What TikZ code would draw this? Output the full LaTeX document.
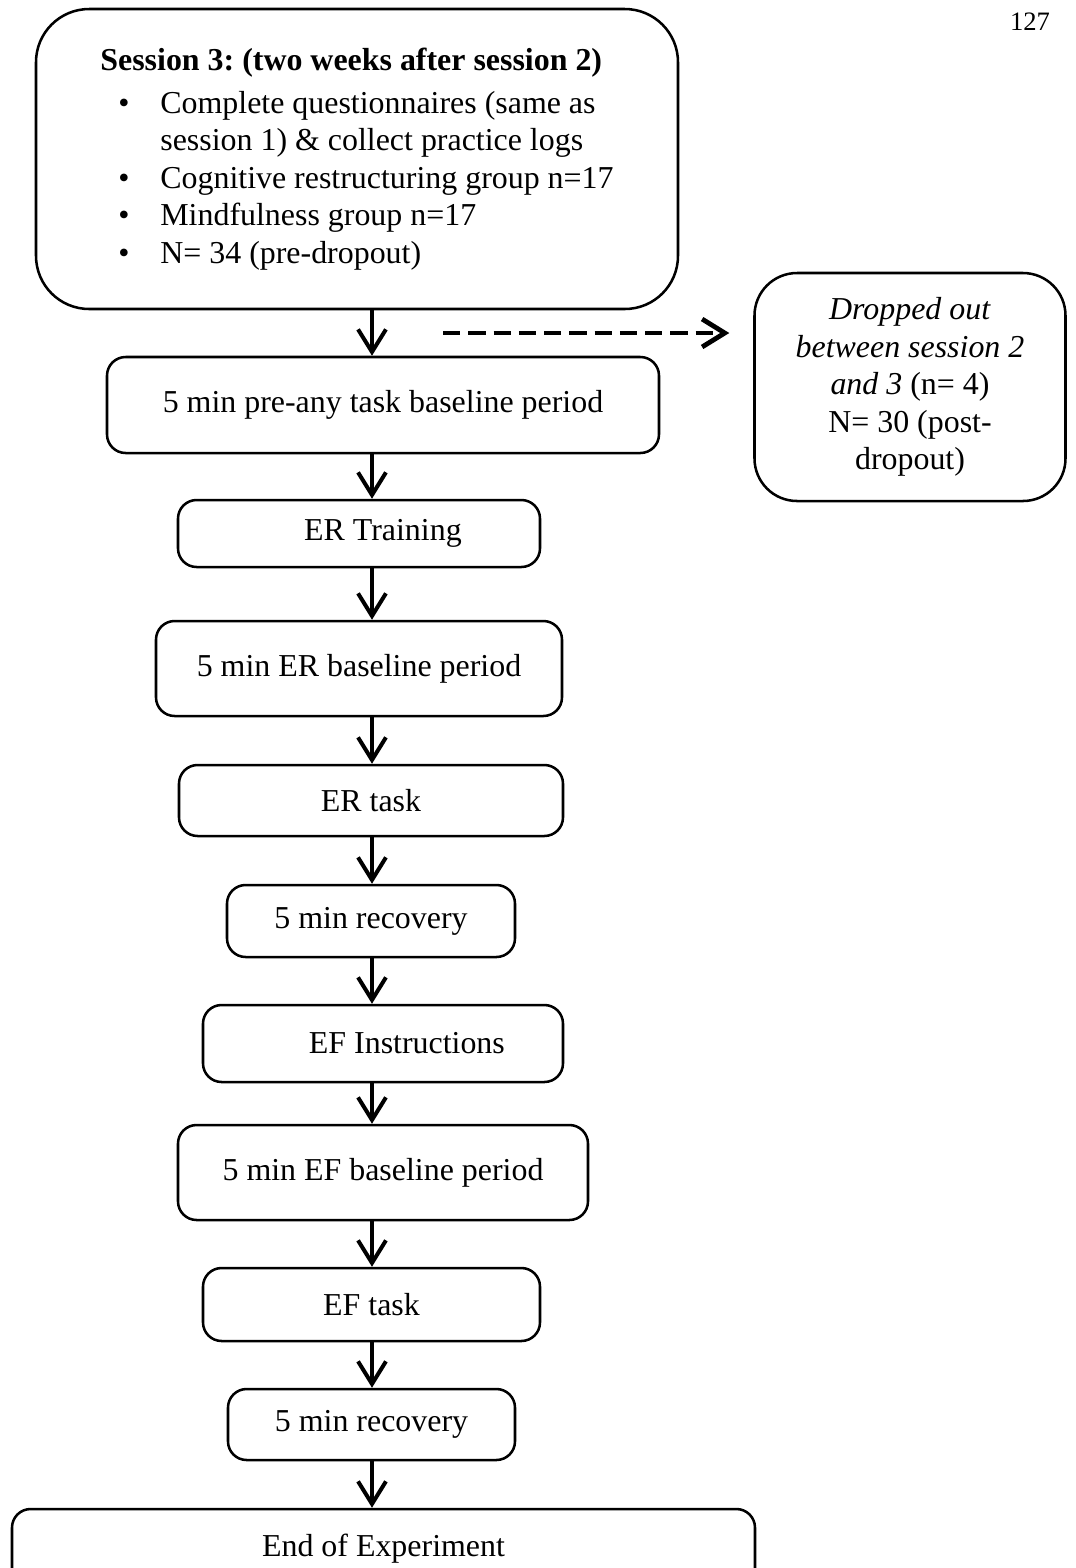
\documentclass[tikz,border=0pt]{standalone}
\usepackage{fontspec}
\setmainfont{Liberation Serif}
\usepackage{tikz}
\usetikzlibrary{arrows.meta,positioning}
\newlength{\px}\setlength{\px}{0.376pt}
\newcommand{\bul}{\makebox[60\px][l]{\hspace{18\px}\textbullet}}

\begin{document}
\begin{tikzpicture}[x=0.376pt,y=-0.376pt,>={Straight Barb[length=8.5pt,width=10.5pt]},
  font=\fontsize{12}{14.1}\selectfont,
  box/.style={draw,line width=0.95pt,rounded corners=7pt,align=center,inner sep=0pt},
  flow/.style={->,line width=1.5pt},
  dashflow/.style={->,line width=1.8pt,dash pattern=on 6.5pt off 3pt}]
  \useasboundingbox (0,0) rectangle (1076,1568);
  \coordinate (spine) at (372,0);
  \node[font=\fontsize{10}{12}\selectfont] (page) at (1030,22) {127};

  \node[box,rounded corners=20pt,align=left,minimum width=642\px,minimum height=300\px] (sess) at (357,159)
    {\textbf{Session 3:\ (two weeks after session 2)}\\[2pt]
     \bul Complete questionnaires (same as\\
     \hspace*{60\px}session 1) \& collect practice logs\\
     \bul Cognitive restructuring group n=17\\
     \bul Mindfulness group n=17\\
     \bul N= 34 (pre-dropout)};
  \node[box,rounded corners=16pt,minimum width=311\px,minimum height=228\px] (drop) at (910,387)
    {\textit{Dropped out}\\ \textit{between session 2}\\ \textit{and 3} (n= 4)\\ N= 30 (post-\\ dropout)};

  \node[box,minimum width=552\px,minimum height=96\px] (pre) at (383,405) {5 min pre-any task baseline period};
  \node[box,minimum width=362\px,minimum height=67\px] (ertrain) at (359,533.5) {\hspace*{18pt}ER Training};
  \node[box,minimum width=406\px,minimum height=95\px] (erbase) at (359,668.5) {5 min ER baseline period};
  \node[box,minimum width=384\px,minimum height=71\px] (ertask) at (371,800.5) {ER task};
  \node[box,minimum width=288\px,minimum height=72\px] (recA) at (371,921) {5 min recovery};
  \node[box,minimum width=360\px,minimum height=77\px] (efinst) at (383,1043.5) {\hspace*{18pt}EF Instructions};
  \node[box,minimum width=410\px,minimum height=95\px] (efbase) at (383,1172.5) {5 min EF baseline period};
  \node[box,minimum width=337\px,minimum height=73\px] (eftask) at (371.5,1304.5) {EF task};
  \node[box,minimum width=287\px,minimum height=71\px] (recB) at (371.5,1424.5) {5 min recovery};
  \node[box,minimum width=743\px,minimum height=80\px] (theend) at (383.5,1549) {\raisebox{2.3pt}{End of Experiment}};

  \foreach \a/\b in {sess/pre,pre/ertrain,ertrain/erbase,erbase/ertask,ertask/recA,recA/efinst,efinst/efbase,efbase/eftask,eftask/recB,recB/theend}
    \draw[flow] (\a.south -| spine) -- (\b.north -| spine);

  \coordinate (dstart) at (443,333);
  \draw[dashflow,shorten >=9pt] (dstart) -- (dstart -| drop.west);
\end{tikzpicture}
\end{document}
